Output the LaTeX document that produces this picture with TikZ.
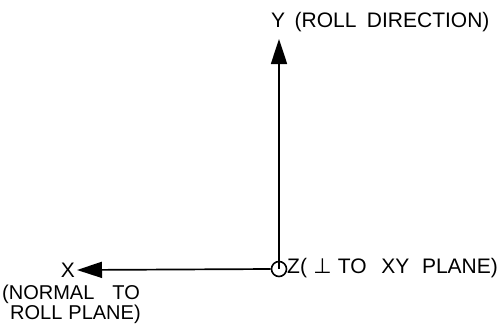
\documentclass[tikz,border=0pt]{standalone}
\usepackage{fontspec}
\setmainfont{Liberation Sans}
\newfontfamily\djv{DejaVu Sans}
\usetikzlibrary{arrows.meta}
\tikzset{
  axis/.style={line width=1.7pt, -{Triangle[length=25pt,width=16pt]}},
  lbl/.style={inner sep=0pt, font=\fontsize{21}{24}\selectfont, align=left},
  lbls/.style={inner sep=0pt, font=\fontsize{20}{24}\selectfont, align=left},
}
\begin{document}
\begin{tikzpicture}[x=1pt,y=-1pt]
\useasboundingbox (0,0) rectangle (502,330);
\node[circle, draw, line width=1.6pt, minimum size=15pt, inner sep=0pt] (o) at (279,269) {};
\coordinate (oc) at (279,269);
\coordinate (ytip) at (279,39);
\coordinate (xtip) at (77,270);
\draw[axis] (oc) -- (ytip);
\draw[axis] (o.west) -- (xtip);
\node[lbl, anchor=west] (ylab) at (271,22) {Y\hspace{0.45em}(ROLL\hspace{0.5em}DIRECTION)};
\node[lbl, anchor=base east] (xlab) at (75,277) {X};
\node[lbls, anchor=base west] (xn1) at (2,299) {(NORMAL\hspace{0.9em}TO};
\node[lbls, anchor=base west] (xn2) at (10,319) {ROLL\hspace{0.3em}PLANE)};
\node[lbl, anchor=west] (zlab) at (287,268) {Z(\hspace{0.3em}{\djv ⊥}\hspace{0.3em}TO\hspace{0.7em}XY\hspace{0.6em}PLANE)};
\end{tikzpicture}
\end{document}
